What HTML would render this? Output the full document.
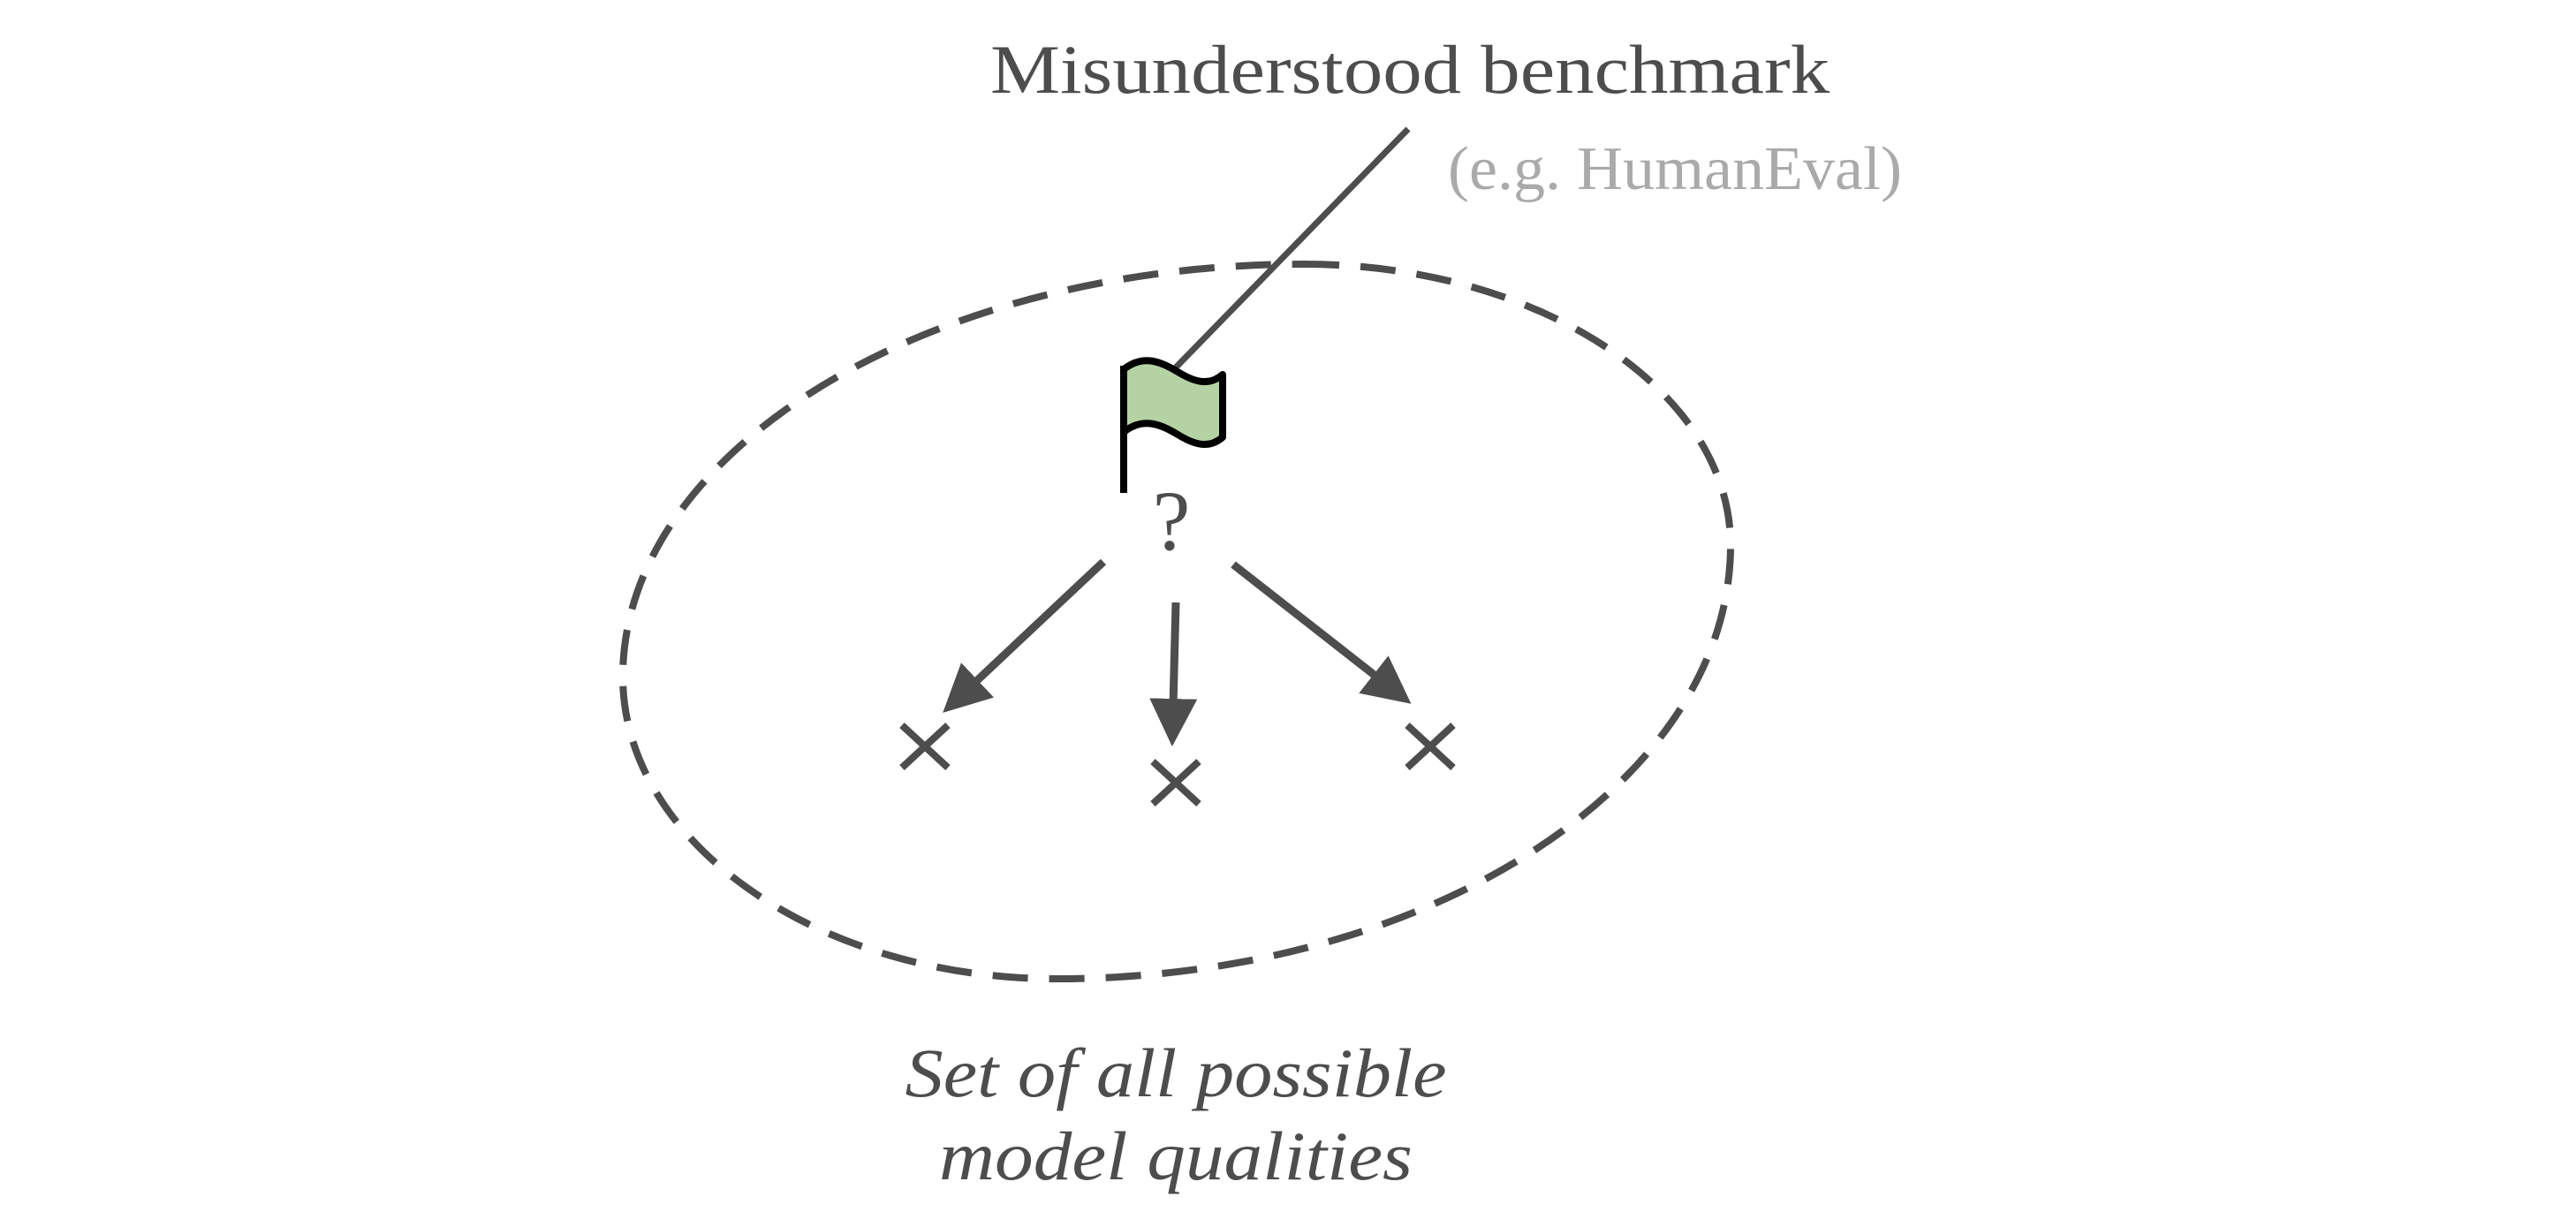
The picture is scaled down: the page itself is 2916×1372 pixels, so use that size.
<!DOCTYPE html>
<html><head><meta charset="utf-8"><style>
html,body{margin:0;padding:0;background:#fff;}
svg{display:block;}
</style></head><body>
<svg width="2916" height="1372" viewBox="0 0 2916 1372" xmlns="http://www.w3.org/2000/svg">
<defs>
<marker id="ah" markerWidth="6" markerHeight="6" refX="1" refY="3" orient="auto" markerUnits="strokeWidth">
<path d="M0,0 L6,3 L0,6 Z" fill="#4d4d4d"/>
</marker>
</defs>
<text x="1121" y="105" font-family="Liberation Serif, serif" font-size="78" fill="#4d4d4d" textLength="950" lengthAdjust="spacingAndGlyphs">Misunderstood benchmark</text>
<text x="1639" y="214" font-family="Liberation Serif, serif" font-size="70" fill="#aaaaaa" textLength="514" lengthAdjust="spacingAndGlyphs">(e.g. HumanEval)</text>
<path d="M1476,299 C1742,299 1959,442 1959,617 C1959,887 1616,1108 1196,1108 C926,1108 705,954 705,766 C705,509 1052,299 1476,299 Z" fill="none" stroke="#4d4d4d" stroke-width="8" stroke-dasharray="40 24"/>
<line x1="1594" y1="146" x2="1328" y2="419" stroke="#4d4d4d" stroke-width="7"/>
<path d="M1272,418 C1295,400 1315,410 1335,422 C1355,434 1370,436 1384,424 L1384,495 C1370,507 1355,505 1335,493 C1315,481 1295,471 1272,489 Z" fill="#b5d2a4" stroke="#000" stroke-width="8" stroke-linejoin="round"/>
<line x1="1272" y1="414" x2="1272" y2="558" stroke="#000" stroke-width="8"/>
<text x="1326" y="622" font-family="Liberation Serif, serif" font-size="96" fill="#4d4d4d" text-anchor="middle">?</text>
<g stroke="#4d4d4d" stroke-width="9" fill="none">
<line x1="1249" y1="636" x2="1100" y2="776" marker-end="url(#ah)"/>
<line x1="1331" y1="682" x2="1328" y2="800" marker-end="url(#ah)"/>
<line x1="1396" y1="639" x2="1562" y2="769" marker-end="url(#ah)"/>
</g>
<g stroke="#4d4d4d" stroke-width="8">
<path d="M1021,821 L1073,869 M1073,821 L1021,869"/>
<path d="M1305,862 L1357,910 M1357,862 L1305,910"/>
<path d="M1593,821 L1645,869 M1645,821 L1593,869"/>
</g>
<text x="1331" y="1241" font-family="Liberation Serif, serif" font-style="italic" font-size="78" fill="#4d4d4d" text-anchor="middle" textLength="613" lengthAdjust="spacingAndGlyphs">Set of all possible</text>
<text x="1331" y="1335" font-family="Liberation Serif, serif" font-style="italic" font-size="78" fill="#4d4d4d" text-anchor="middle" textLength="536" lengthAdjust="spacingAndGlyphs">model qualities</text>
</svg>
</body></html>
